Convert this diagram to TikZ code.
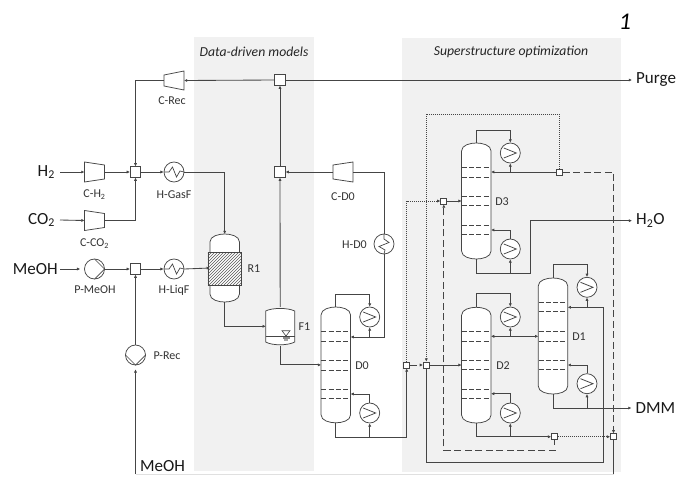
\documentclass[tikz,border=0pt]{standalone}
\usepackage{fontspec}
\setmainfont{Carlito}
\usetikzlibrary{arrows.meta,patterns,calc}
\definecolor{ln}{gray}{0.27}
\definecolor{bgz}{gray}{0.945}
\tikzset{
  unit/.style={draw=ln,line width=0.75pt,fill=white},
  flow/.style={draw=ln,line width=0.85pt},
  arr/.style={flow,-{Latex[length=3.2pt,width=3.2pt]}},
  dsh/.style={dash pattern=on 7pt off 3.5pt,line width=1pt},
  dtt/.style={dash pattern=on 1pt off 1pt,line width=1pt},
  mix/.style={unit,rectangle,minimum size=10.5pt,inner sep=0pt},
  smix/.style={unit,rectangle,minimum size=6pt,inner sep=0pt},
  hxc/.style={unit,circle,minimum size=20pt,inner sep=0pt},
  anch/.style={rectangle,inner sep=0pt,outer sep=0pt},
  lab/.style={font=\fontsize{12}{13}\selectfont,text=black!80,inner sep=0pt},
  big/.style={font=\fontsize{17}{18}\selectfont,text=black!90,inner sep=0pt},
  zonet/.style={font=\fontsize{13.7}{15}\selectfont\itshape,text=black!85,inner sep=0pt},
  tray/.style={draw=ln,line width=0.8pt,dash pattern=on 5pt off 2.3pt}
}
% heat exchanger with wavy coil
\newcommand{\heatx}[4]{\node[hxc] (#1) at (#2,#3) {};
  \draw[ln,line width=0.7pt,rotate around={#4:(#2,#3)}] ({#2-10},#3) -- ({#2-5},#3) -- ({#2-1.5},{#3-5}) -- ({#2+2.5},{#3+5}) -- ({#2+6},{#3-1}) -- ({#2+10},#3);}
% condenser / reboiler
\newcommand{\condn}[3]{\node[hxc] (#1) at (#2,#3) {};
  \draw[ln,line width=0.75pt] ({#2-6.5},{#3-5}) -- ({#2+6},{#3}) -- ({#2-6.5},{#3+5});}
% pump
\newcommand{\pumpx}[4]{\node[hxc] (#1) at (#2,#3) {};
  \draw[ln,line width=0.7pt,rotate around={#4:(#2,#3)}] (#2,{#3-10}) -- ({#2+10},#3) -- (#2,{#3+10});}
% compressor: name, x, y, left half height, right half height
\newcommand{\compr}[5]{\node[anch,minimum width=20pt,minimum height=20pt] (#1) at (#2,#3) {};
  \draw[unit] ({#2-10},{#3-#4}) -- ({#2+10},{#3-#5}) -- ({#2+10},{#3+#5}) -- ({#2-10},{#3+#4}) -- cycle;}
% column shell: name, cx, top, bottom
\newcommand{\colm}[4]{\node[anch,minimum width=29.5pt,minimum height={#4-#3}] (#1) at (#2,{(#3+#4)/2}) {};
  \draw[unit] ({#2-14.75},{#3+8}) .. controls ({#2-14.75},{#3+2}) and ({#2-6},#3) .. (#2,#3)
    .. controls ({#2+6},#3) and ({#2+14.75},{#3+2}) .. ({#2+14.75},{#3+8})
    -- ({#2+14.75},{#4-8}) .. controls ({#2+14.75},{#4-2}) and ({#2+6},#4) .. (#2,#4)
    .. controls ({#2-6},#4) and ({#2-14.75},{#4-2}) .. ({#2-14.75},{#4-8}) -- cycle;}
\newcommand{\trays}[2]{\foreach \ty in {#2} {\draw[tray] ({#1-14.5},\ty) -- ({#1+14.5},\ty);}}
\begin{document}
\begin{tikzpicture}[x=1pt,y=-1pt]
\useasboundingbox (0,0) rectangle (679,479);
\fill[white] (0,0) rectangle (679,479);
% zones
\fill[bgz] (193.5,37) rectangle (314,471);
\fill[bgz] (402,38) rectangle (621,472);
\node[zonet] (zoneA) at (254,51.5) {Data-driven models};
\node[zonet] (zoneB) at (511,51.5) {Superstructure optimization};
\node[font=\fontsize{24}{26}\selectfont\itshape,text=black,inner sep=0pt] (figno) at (625,22) {1};
% streams' terminal labels
\node[big,anchor=east] (tH) at (55,172) {H\textsubscript{2}};
\node[big,anchor=east] (tC) at (55,220) {CO\textsubscript{2}};
\node[big,anchor=east] (tM) at (58,269) {MeOH};
\node[big,anchor=west] (tR) at (140,466) {MeOH};
\node[big,anchor=west] (Purge) at (636,80) {Purge};
\node[big,anchor=west] (Water) at (636,220.7) {H\textsubscript{2}O};
\node[big,anchor=west] (DMM) at (635.5,408) {DMM};
\coordinate (h2s) at (60,172);
\coordinate (co2s) at (60,220);
\coordinate (meohs) at (60,269);
\coordinate (recs) at (135.5,474);
% units
\node[mix] (mH) at (135.5,172) {};
\node[mix] (mM) at (135.5,269) {};
\node[mix] (mD) at (280,172) {};
\node[mix] (mP) at (280,80) {};
\node[smix] (sD0) at (406.7,365) {};
\node[smix] (mD2) at (426.3,365) {};
\node[smix] (mD3) at (443.8,201) {};
\node[smix] (sD3) at (559.5,172) {};
\node[smix] (sD2) at (554.5,436.7) {};
\node[smix] (mB) at (613.5,436.7) {};
\compr{cRec}{174}{80.5}{5.5}{9.5}
\compr{cH}{94.5}{172}{10}{7}
\compr{cC}{94.5}{220.5}{10}{7}
\compr{cD}{343}{172}{7}{10}
\heatx{hG}{174}{172}{0}
\heatx{hL}{174}{269}{0}
\heatx{hD}{384}{244}{-90}
\pumpx{pM}{94.5}{269}{0}
\pumpx{pR}{135.5}{355}{-90}
% R1
\colm{R1}{224.7}{234}{302}
\fill[white] (207.9,252) rectangle (241.5,285);
\draw[draw=ln,line width=0.75pt,pattern=north east lines,pattern color=black!65] (207.95,252) rectangle (241.45,285);
% F1
\node[anch,minimum width=29pt,minimum height=38.7pt] (F1) at (280.2,326.3) {};
\draw[unit] (265.7,311) .. controls (272,307.6) and (288,307.6) .. (294.7,311) -- (294.7,342) .. controls (288,345.7) and (272,345.7) .. (265.7,342) -- cycle;
\draw[ln,line width=0.8pt] (265.7,336) -- (294.7,336);
\draw[ln,line width=0.6pt] (282,330.7) -- (290,330.7) -- (286,336) -- cycle;
\fill[black!45] (282.5,337) rectangle (289.5,339);
\fill[black!35] (284,339) rectangle (288,341);
% columns
\colm{D0}{335.8}{307}{422.8}
\trays{335.8}{331,341,360,370,389,398.5}
\colm{D3}{476.3}{143}{259}
\trays{476.3}{167.3,177,196,205.7,225,234.7}
\colm{D2}{476.3}{307.3}{423}
\trays{476.3}{331.3,341,360.3,369.7,389,398.7}
\colm{D1}{553}{278}{394}
\trays{553}{302,311.7,331.3,341,360.3,369.7}
\condn{cd0}{369.7}{317}
\condn{rb0}{369.7}{413}
\condn{cd3}{510.3}{153}
\condn{rb3}{510.3}{249}
\condn{cd2}{510.3}{317}
\condn{rb2}{510.3}{413}
\condn{cd1}{587}{287.3}
\condn{rb1}{587}{383.7}
% labels
\node[lab] (lcRec) at (172,100.5) {C-Rec};
\node[lab] (lcH) at (94.5,195) {C-H\textsubscript{2}};
\node[lab] (lhG) at (174,194.5) {H-GasF};
\node[lab] (lcC) at (94.5,244) {C-CO\textsubscript{2}};
\node[lab] (lpM) at (95,290) {P-MeOH};
\node[lab] (lhL) at (174,290) {H-LiqF};
\node[lab] (lpR) at (167,356) {P-Rec};
\node[lab] (lR1) at (254,269) {R1};
\node[lab] (lF1) at (304.5,326.5) {F1};
\node[lab] (lD0) at (362,365.3) {D0};
\node[lab] (lcD) at (343,197) {C-D0};
\node[lab] (lhD) at (354.5,244.5) {H-D0};
\node[lab] (lD3) at (502,201.5) {D3};
\node[lab] (lD2) at (503,365.3) {D2};
\node[lab] (lD1) at (579,336.3) {D1};
% left side streams
\draw[arr] (h2s) -- (cH.west);
\draw[arr] (cH.east) -- (mH.west);
\draw[arr] (co2s) -- (cC.west);
\draw[arr] (cC.east) -| (mH.south);
\draw[arr] (cRec.west) -| (mH.north);
\draw[arr] (mH.east) -- (hG.west);
\draw[arr] (hG.east) -| (R1.north);
\draw[arr,shorten >=4pt] (meohs) -- (pM.west);
\draw[arr] (pM.east) -- (mM.west);
\draw[arr] (mM.east) -- (hL.west);
\draw[arr] (hL.east) -- (R1.west);
\draw[arr,shorten >=4pt] (recs) -- (pR.south);
\draw[arr] (pR.north) -- (mM.south);
\draw[line width=0.9pt,black!12] (recs) -- (mB.south |- recs);
% top
\draw[arr] (mP.west) -- (cRec.east);
\draw[arr,shorten >=4pt] (mP.east) -- (Purge.west);
\draw[arr] (mD.north) -- (mP.south);
\draw[arr] (F1.north) -- (mD.south);
\draw[arr] (cD.west) -- (mD.east);
\draw[flow] (hD.north) |- (cD.east);
% R1, F1, D0
\draw[arr] (R1.south) |- (F1.west);
\draw[arr] (F1.south) |- (D0.west);
\draw[arr] (D0.north) |- (cd0.north |- 0,294) -- (cd0.north);
\draw[arr] (cd0.south |- 0,337) -- (cd0.south);
\draw[arr] (hD.south) |- (D0.east |- 0,337);
\draw[arr] (rb0.north) |- (D0.east |- 0,394);
\draw[flow] (D0.south) |- (sD0.south |- 0,437);
\draw[arr] (sD0.south |- 0,437) -- (sD0.south);
\draw[arr] (rb0.south |- 0,437) -- (rb0.south);
% distribution
\draw[arr,dsh,draw=ln] (sD0.east) -- (mD2.west);
\draw[arr,dtt,draw=ln] (sD0.north) |- (mD3.west);
\draw[arr] (mD3.east) -- (mD3.east -| D3.west);
\draw[arr] (mD2.east) -- (mD2.east -| D2.west);
\draw[dtt,draw=ln,-{Latex[length=3.2pt,width=3.2pt]}] (sD3.north) |- (mD2.north |- 0,114) -- (mD2.north);
% D3
\draw[arr] (D3.north) |- (cd3.north |- 0,130) -- (cd3.north);
\draw[arr] (sD3.west) -- (sD3.west -| D3.east);
\draw[arr] (cd3.south |- sD3.west) -- (cd3.south);
\draw[arr] (rb3.north) |- (D3.east |- 0,230);
\draw[arr] (rb3.south |- 0,273.3) -- (rb3.south);
\draw[arr,shorten >=4pt] (D3.south) |- (530.3,273.3) |- (Water.west);
\draw[arr,dsh,draw=ln] (sD3.east) -| (mB.north);
% D2, D1
\draw[arr] (D2.north) |- (cd2.north |- 0,293.7) -- (cd2.north);
\draw[arr] (cd2.south |- 0,336.3) -- (cd2.south);
\draw[{Latex[length=3.2pt,width=3.2pt]}-{Latex[length=3.2pt,width=3.2pt]},flow] (D2.east |- 0,336.3) -- (D1.west |- 0,336.3);
\draw[arr] (rb2.north) |- (D2.east |- 0,393.7);
\draw[arr] (rb2.south |- sD2.west) -- (rb2.south);
\draw[arr] (D2.south) |- (sD2.west);
\draw[flow] (sD2.south) -- (sD2.south |- 0,445);
\draw[arr,dsh,draw=ln] (555.7,450) -- (443.8,450) -- (mD3.south);
\draw[arr,dtt,draw=ln] (sD2.east) -- (mB.west);
\draw[flow] (mB.south) -- (mB.south |- recs);
\draw[arr] (mD2.south) |- (603,462.7) |- (D1.east |- 0,307.3);
\draw[arr] (cd1.south |- 0,307.3) -- (cd1.south);
\draw[arr] (D1.north) |- (cd1.north |- 0,264.3) -- (cd1.north);
\draw[arr] (rb1.north) |- (D1.east |- 0,365);
\draw[arr] (rb1.south |- DMM.west) -- (rb1.south);
\draw[arr,shorten >=4pt] (D1.south) |- (DMM.west);
\end{tikzpicture}
\end{document}
